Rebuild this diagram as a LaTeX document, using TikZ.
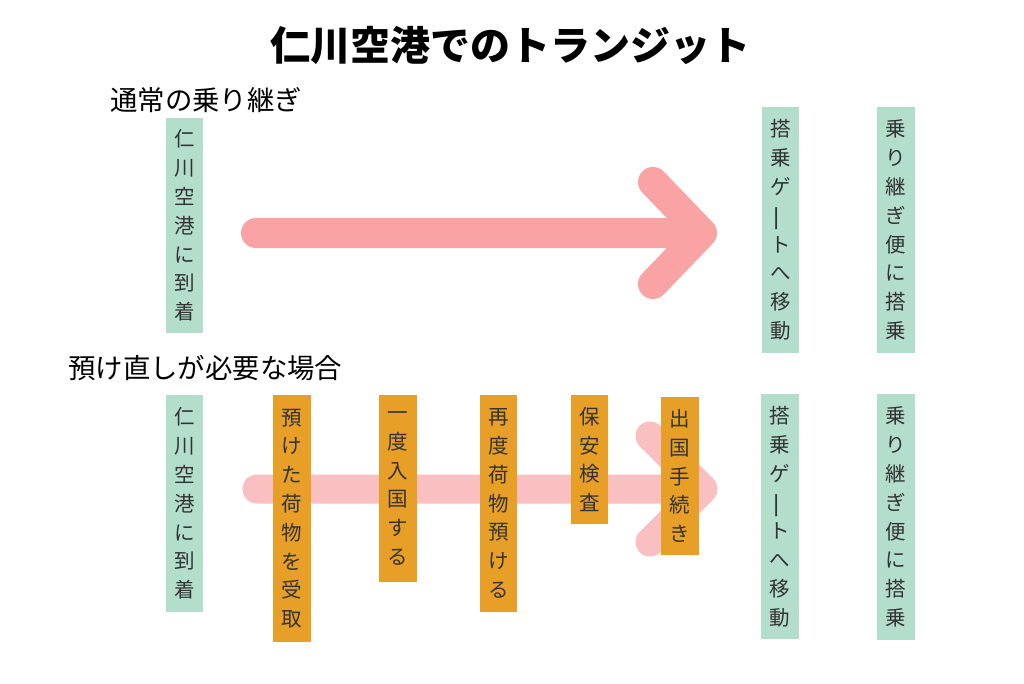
\documentclass[tikz,border=0pt]{standalone}
\usepackage{fontspec}
\usepackage{graphicx}
\newfontfamily\jp{Noto Sans CJK JP}
\definecolor{boxgreen}{HTML}{B2DECB}
\definecolor{boxorange}{HTML}{E89F27}
\definecolor{arrowdark}{HTML}{F9A3A4}
\definecolor{arrowlight}{HTML}{F9BFC1}
\definecolor{textgray}{HTML}{333333}
\newcommand{\vbar}{\rotatebox[origin=c]{90}{\scalebox{1.35}[1]{ー}}}
\tikzset{
  vbox/.style={minimum width=37.5pt, inner sep=0pt, align=center,
    font=\jp\fontsize{20.5}{28.8}\selectfont, text=textgray},
  gbox/.style={vbox, fill=boxgreen},
  obox/.style={vbox, fill=boxorange},
  bigarrow/.style={line width=30pt, line cap=round, line join=round},
  heading/.style={font=\jp\fontsize{27.4}{30}\selectfont, text=black, inner sep=0pt, anchor=west}
}
\begin{document}
\begin{tikzpicture}[x=1pt,y=-1pt]
\useasboundingbox (0,0) rectangle (1024,683);
\fill[white] (0,0) rectangle (1024,683);

% title and headings
\node[font=\jp\bfseries\fontsize{40}{48}\selectfont, inner sep=0pt] (title) at (510,45) {仁川空港でのトランジット};
\node[heading] (h1) at (110,100) {通常の乗り継ぎ};
\node[heading] (h2) at (68,368) {預け直しが必要な場合};

% top arrow
\coordinate (ta) at (256,233);
\coordinate (tt) at (702,233);
\coordinate (tu) at (653,182);
\coordinate (tl) at (653,284);
\draw[bigarrow, arrowdark] (ta) -- (tt) (tu) -- (tt) -- (tl);

% bottom arrow
\coordinate (ba) at (257,489);
\coordinate (bt) at (703,489);
\coordinate (bu) at (650,436);
\coordinate (bl) at (650,542);
\draw[bigarrow, line width=29pt, arrowlight] (ba) -- (bt) (bu) -- (bt) -- (bl);

% top row boxes
\node[gbox, minimum height=215pt] (a1) at (184.5,225.5) {仁\\川\\空\\港\\に\\到\\着};
\node[gbox, minimum height=246pt] (a2) at (780.5,230) {搭\\乗\\ゲ\\\vbar\\ト\\へ\\移\\動};
\node[gbox, minimum height=246pt] (a3) at (896,230) {乗\\り\\継\\ぎ\\便\\に\\搭\\乗};

% bottom row boxes
\node[gbox, minimum height=217pt] (b1) at (184.5,503.5) {仁\\川\\空\\港\\に\\到\\着};
\node[obox, minimum height=247pt] (b2) at (292,518.5) {預\\け\\た\\荷\\物\\を\\受\\取};
\node[obox, minimum height=187pt] (b3) at (398,488.5) {一\\度\\入\\国\\す\\る};
\node[obox, minimum height=217pt] (b4) at (498.5,503.5) {再\\度\\荷\\物\\預\\け\\る};
\node[obox, minimum height=129pt] (b5) at (589.5,459.5) {保\\安\\検\\査};
\node[obox, minimum height=158pt] (b6) at (680,476) {出\\国\\手\\続\\き};
\node[gbox, minimum height=245pt] (b7) at (780,516.5) {搭\\乗\\ゲ\\\vbar\\ト\\へ\\移\\動};
\node[gbox, minimum height=246pt] (b8) at (896,517) {乗\\り\\継\\ぎ\\便\\に\\搭\\乗};
\end{tikzpicture}
\end{document}
